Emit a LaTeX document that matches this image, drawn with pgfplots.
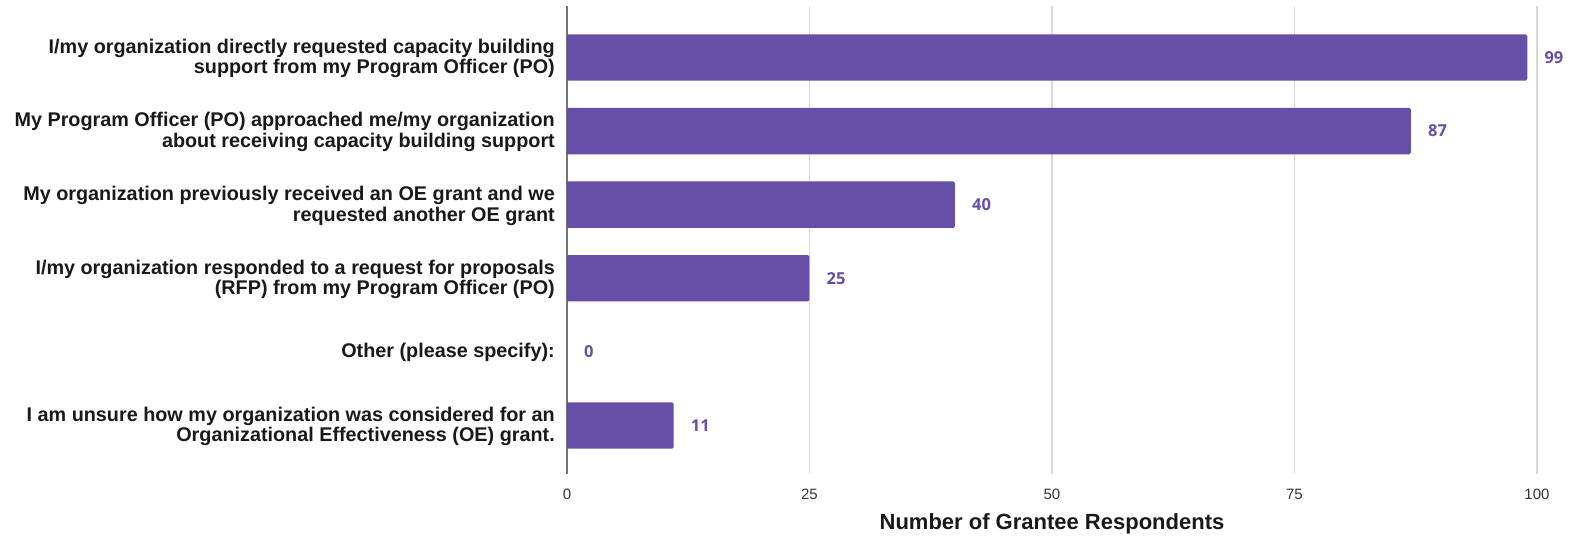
\documentclass[border=0pt]{standalone}
\usepackage{fontspec}
\setmainfont{Liberation Sans}
\newfontfamily\valfont{Open Sans}
\usepackage{pgfplots}
\pgfplotsset{compat=1.18}
\definecolor{barpurple}{HTML}{674EA7}
\begin{document}
\begin{tikzpicture}
\begin{axis}[
  at={(0pt,0pt)}, anchor=south west,
  scale only axis, width=970pt, height=468pt,
  xbar, y dir=reverse,
  xmin=0, xmax=100, ymin=-0.7, ymax=5.66,
  xtick={25,50,75,100},
  extra x ticks={0},
  extra x tick labels={0},
  extra x tick style={grid style={color=black!55, line width=1.2pt}},
  ytick={0,1,2,3,4,5},
  yticklabels={
    {I/my organization directly requested capacity building\\support from my Program Officer (PO)},
    {My Program Officer (PO) approached me/my organization\\about receiving capacity building support},
    {My organization previously received an OE grant and we\\requested another OE grant},
    {I/my organization responded to a request for proposals\\(RFP) from my Program Officer (PO)},
    {Other (please specify):},
    {I am unsure how my organization was considered for an\\Organizational Effectiveness (OE) grant.}},
  bar width=0.63,
  axis line style={draw=none},
  major tick length=0pt,
  xmajorgrids,
  grid style={color=black!15, line width=1.2pt},
  /pgf/number format/assume math mode=true,
  xticklabel style={font=\fontsize{15}{17}\selectfont, text=black!80, inner sep=0pt, yshift=-15pt},
  yticklabel style={align=right, font=\bfseries\fontsize{19.8}{20.5}\selectfont, text=black!90, inner sep=0pt, xshift=-12pt, yshift=-1pt},
  xlabel={Number of Grantee Respondents},
  xlabel style={font=\bfseries\fontsize{22}{26}\selectfont, text=black!90, at={(axis description cs:0.5,0)}, anchor=center, yshift=-50pt},
  nodes near coords,
  nodes near coords style={anchor=west, xshift=17pt, inner sep=0pt, font=\valfont\bfseries\fontsize{16.5}{18}\selectfont, text=barpurple},
]
\addplot[fill=barpurple, draw=none, rounded corners=1.5pt] coordinates {
  (99,0) (87,1) (40,2) (25,3) (0,4) (11,5)
};
\end{axis}
\pgfresetboundingbox
\path[use as bounding box] (-567pt,-66pt) rectangle (1008pt,474pt);
\end{tikzpicture}
\end{document}
